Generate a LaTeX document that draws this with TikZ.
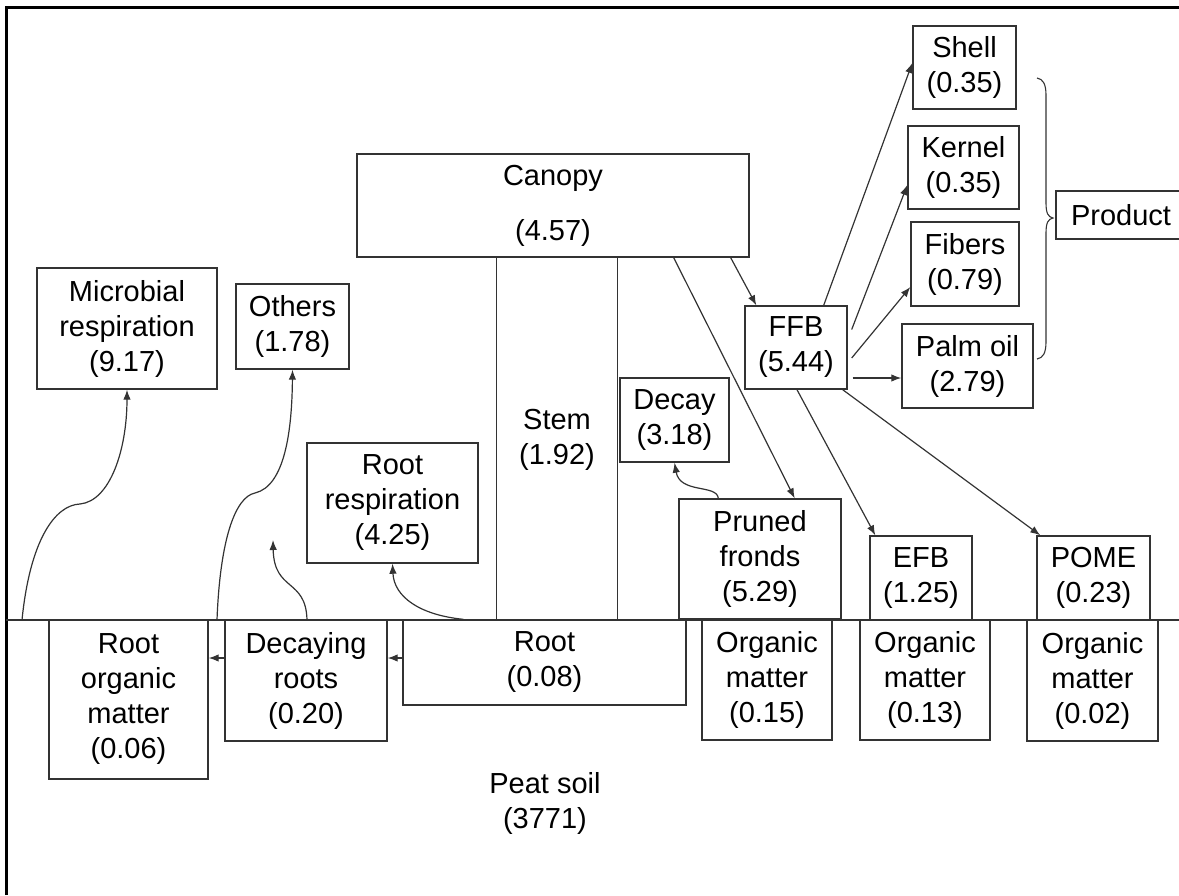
\documentclass[tikz,border=0pt]{standalone}
\usepackage{fontspec}
\setmainfont{Liberation Sans}
\usetikzlibrary{arrows.meta}
\definecolor{linec}{HTML}{333333}
\newcommand{\myfs}{\fontsize{29}{35}\selectfont}
\begin{document}
\begin{tikzpicture}[x=1pt,y=-1pt,
  box/.style={draw=linec, line width=1.4pt, inner sep=0pt, align=center, font=\myfs},
  lbl/.style={inner sep=0pt, align=center, font=\myfs},
  arr/.style={draw=linec, line width=1.2pt, -{Latex[length=10pt,width=7.5pt]}},
  ln/.style={draw=linec, line width=1.2pt}]
\useasboundingbox (0,0) rectangle (1179,895);
% frame
\draw[line width=3pt, line join=miter] (6.5,895) -- (6.5,7.5) -- (1179,7.5);
% ground
\coordinate (gl) at (6,620);
\coordinate (gr) at (1179,620);
\draw[ln, line width=1.5pt] (gl) -- (gr);

% boxes above ground
\node[box, minimum width=392pt, minimum height=103pt] (canopy) at (553,205.5) {Canopy\\[20pt](4.57)};
\node[box, minimum width=102pt, minimum height=83pt] (ffb) at (796,347.5) {FFB\\(5.44)};
\node[box, minimum width=103pt, minimum height=83pt] (shell) at (964.5,67.5) {Shell\\(0.35)};
\node[box, minimum width=111pt, minimum height=83pt] (kernel) at (963.5,167.5) {Kernel\\(0.35)};
\node[box, minimum width=108pt, minimum height=84pt] (fibers) at (965,264) {Fibers\\(0.79)};
\node[box, minimum width=131pt, minimum height=84pt] (palm) at (967.5,366) {Palm oil\\(2.79)};
\node[box, minimum width=130pt, minimum height=48pt, text width=130pt] (product) at (1121,215) {Product};
\node[box, minimum width=109pt, minimum height=84pt] (decay) at (674.5,420) {Decay\\(3.18)};
\node[box, minimum width=162pt, minimum height=120pt] (pruned) at (760,559) {Pruned\\fronds\\(5.29)};
\node[box, minimum width=102pt, minimum height=84pt] (efb) at (921,578) {EFB\\(1.25)};
\node[box, minimum width=113pt, minimum height=84pt] (pome) at (1093.5,578) {POME\\(0.23)};
\node[box, minimum width=180pt, minimum height=121pt] (micro) at (127,328.5) {Microbial\\respiration\\(9.17)};
\node[box, minimum width=113pt, minimum height=85pt] (others) at (292.5,326.5) {Others\\(1.78)};
\node[box, minimum width=171pt, minimum height=120pt] (rootresp) at (392.5,503) {Root\\respiration\\(4.25)};
\node[lbl] (stem) at (557,440) {Stem\\(1.92)};

% boxes below ground
\node[box, minimum width=283pt, minimum height=85pt] (root) at (544.5,662.5) {Root\\(0.08)};
\node[box, minimum width=162pt, minimum height=121pt] (decaying) at (306,680.5) {Decaying\\roots\\(0.20)};
\node[box, minimum width=159pt, minimum height=159pt] (rom) at (128.5,699.5) {Root\\organic\\matter\\(0.06)};
\node[box, minimum width=130pt, minimum height=120pt] (om1) at (767,680) {Organic\\matter\\(0.15)};
\node[box, minimum width=130pt, minimum height=120pt] (om2) at (925,680) {Organic\\matter\\(0.13)};
\node[box, minimum width=131pt, minimum height=121pt] (om3) at (1092.5,680.5) {Organic\\matter\\(0.02)};
\node[lbl] (peat) at (545,803) {Peat soil\\(3771)};

% stem lines
\coordinate (s1) at ([xshift=140pt]canopy.south west);
\coordinate (s2) at ([xshift=261pt]canopy.south west);
\draw[ln] (s1) -- (s1 |- gl);
\draw[ln] (s2) -- (s2 |- gl);

% straight arrows
\draw[arr] ([xshift=-19pt]canopy.south east) -- ([xshift=12pt]ffb.north west);
\draw[arr] ([xshift=-76pt]canopy.south east) -- ([xshift=-47pt]pruned.north east);
\draw[arr] ([xshift=-24pt]ffb.north east) -- ([yshift=4.5pt]shell.west);
\draw[arr] ([xshift=4pt,yshift=18pt]ffb.east) -- ([yshift=-17.5pt]kernel.west);
\draw[arr] ([xshift=4pt,yshift=-10.5pt]ffb.east) -- ([yshift=-23pt]fibers.west);
\draw[arr] ([xshift=5pt,yshift=-30.5pt]ffb.east) -- ([yshift=-12pt]palm.west);
\draw[arr] ([xshift=1pt]ffb.south) -- ([xshift=6pt]efb.north west);
\draw[arr] ([xshift=-5pt]ffb.south east) -- ([xshift=4pt]pome.north west);

% brace
\draw[ln, line width=1.1pt] (1037,78) .. controls (1043,79) and (1046,84) .. (1046,95) -- (1046,203)
  .. controls (1046,213) and (1048,217) .. (1053,218) .. controls (1048,219) and (1046,223) .. (1046,233)
  -- (1046,342) .. controls (1046,353) and (1043,358) .. (1037,359);

% horizontal arrows in soil
\coordinate (r1) at ([yshift=4.5pt]root.west);
\draw[arr] (r1) -- (r1 -| decaying.east);
\coordinate (d1) at ([yshift=22.5pt]decaying.west);
\draw[arr] (d1) -- (d1 -| rom.east);

% curved arrows
\coordinate (c1) at (22,620);
\draw[arr] (c1) .. controls (30,540) and (55,505) .. (80,504) .. controls (110,501) and (127,450) .. (micro.south);
\coordinate (c2) at (217,620);
\draw[arr] (c2) .. controls (220,540) and (235,497) .. (255,493) .. controls (285,486) and (292,430) .. (others.south);
\coordinate (c3) at (307,620);
\coordinate (c3end) at (273,540);
\draw[arr] (c3) .. controls (306,578) and (274,592) .. (c3end);
\coordinate (c4) at ([xshift=61pt]root.north west);
\draw[arr] (c4) .. controls (420,615) and (394,597) .. (rootresp.south);
\coordinate (c5) at ([xshift=40pt]pruned.north west);
\draw[arr] (c5) .. controls (717,484) and (680,494) .. (decay.south);
\end{tikzpicture}
\end{document}
